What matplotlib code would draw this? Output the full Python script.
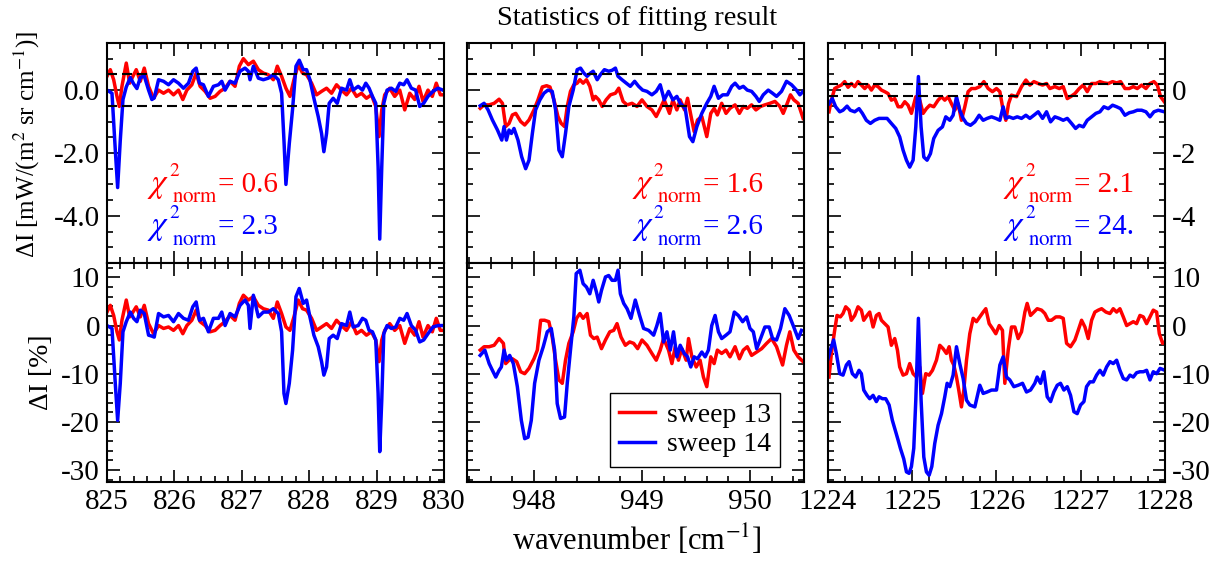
import matplotlib
matplotlib.use("Agg")
import matplotlib.pyplot as plt
from matplotlib.ticker import MultipleLocator, FormatStrFormatter

plt.rcParams.update({
    "font.family": "serif",
    "font.serif": ["Liberation Serif", "DejaVu Serif"],
    "mathtext.fontset": "stix",
    "axes.unicode_minus": False,
    "axes.linewidth": 1.5,
})

RED = "#ff0000"
BLUE = "#0000ff"

# ---------------------------------------------------------------- 825-830 window
left_x_blue = [825.000, 825.074, 825.123, 825.158, 825.197, 825.237, 825.286, 825.346, 825.395, 825.444,
               825.494, 825.553, 825.617, 825.666, 825.701, 825.765, 825.839, 825.913, 825.987, 826.061,
               826.135, 826.209, 826.273, 826.323, 826.372, 826.431, 826.505, 826.579, 826.654, 826.703,
               826.752, 826.826, 826.900, 826.974, 827.048, 827.098, 827.122, 827.172, 827.246, 827.320,
               827.394, 827.468, 827.542, 827.591, 827.626, 827.655, 827.705, 827.754, 827.804, 827.853,
               827.912, 827.961, 828.011, 828.070, 828.134, 828.184, 828.218, 828.258, 828.297, 828.356,
               828.416, 828.480, 828.554, 828.603, 828.653, 828.727, 828.791, 828.840, 828.889, 828.939,
               828.988, 829.023, 829.047, 829.077, 829.107, 829.156, 829.220, 829.284, 829.344, 829.403,
               829.452, 829.516, 829.580, 829.640, 829.699, 829.763, 829.837, 829.911, 829.985]
left_abs_blue = [0.0, -0.1, -1.9, -3.1, -1.6, -0.3, 0.1, 0.4, 0.2, 0.05,
                 0.4, 0.45, 0.0, -0.3, -0.25, 0.33, 0.28, 0.17, 0.33, 0.22,
                 0.06, 0.22, 0.6, 0.7, 0.22, 0.17, -0.2, 0.12, 0.17, 0.28,
                 0.0, 0.28, 0.22, 0.6, 0.7, 0.6, 0.33, 0.76, 0.38, 0.33,
                 0.38, 0.49, 0.33, -0.1, -1.6, -3.0, -1.7, -0.6, 0.76, 0.95,
                 0.65, 0.65, 0.33, -0.26, -0.84, -1.38, -1.96, -1.38, -0.42, -0.26,
                 -0.42, 0.06, 0.0, 0.33, 0.0, 0.12, 0.0, 0.22, 0.06, -0.2,
                 -0.42, -2.44, -4.74, -2.44, -0.42, 0.0, 0.06, -0.04, 0.22, 0.17,
                 0.33, 0.06, 0.0, -0.52, -0.42, -0.2, -0.04, 0.06, 0.0]
left_rel_blue = [0, -0.6, -12, -19.7, -12, -1.3, 0.8, 2.8, 1.5, 0.8,
                 3.2, 2.5, -2, -2.2, -2.4, 2.5, 1.8, 2.1, 0.8, 2.5,
                 1.5, 1.1, 3.9, 4.9, 1.1, 1.5, -1.3, 1.5, 1.5, 2.8,
                 0, 2.5, 1.8, 4.2, 5.3, 4.2, -0.6, 6.3, 1.8, 2.8,
                 2.8, 3.5, 2.5, -1.3, -14.1, -16.2, -12, -5.1, 6, 7.7,
                 4.6, 5.3, 1.8, -2, -4.4, -7.5, -10.3, -8.6, -2.7, -2,
                 -2.7, 0.4, 0, 2.8, -0.3, 0, 1.5, 1.1, -1, -1.3,
                 -3, -14.1, -26.2, -15.5, -1.7, 0, -0.6, -0.3, 1.5, 1.1,
                 2.5, 0, -1, -3.4, -3, -1.7, -0.3, 0, 0]

left_x_red = [825.000, 825.049, 825.099, 825.148, 825.183, 825.222, 825.286, 825.336, 825.385, 825.434,
              825.494, 825.553, 825.617, 825.691, 825.765, 825.839, 825.913, 825.987, 826.061, 826.125,
              826.185, 826.259, 826.323, 826.382, 826.456, 826.530, 826.604, 826.678, 826.752, 826.826,
              826.900, 826.964, 827.024, 827.098, 827.172, 827.246, 827.320, 827.394, 827.468, 827.527,
              827.591, 827.655, 827.715, 827.774, 827.838, 827.902, 827.961, 828.036, 828.110, 828.184,
              828.258, 828.332, 828.406, 828.480, 828.554, 828.628, 828.702, 828.776, 828.850, 828.924,
              828.988, 829.037, 829.077, 829.121, 829.195, 829.269, 829.344, 829.418, 829.492, 829.566,
              829.630, 829.689, 829.763, 829.827, 829.886, 829.946, 830.000]
left_abs_red = [0.44, 0.65, 0.33, -0.2, -0.52, 0.12, 0.86, 0.22, 0.44, 0.65,
                0.28, 0.7, 0.12, -0.26, 0.0, -0.1, 0.0, -0.15, 0.0, -0.3,
                0.0, 0.17, 0.54, 0.12, -0.04, -0.26, -0.2, -0.04, 0.06, 0.28,
                0.12, 0.76, 1.0, 0.81, 0.92, 0.65, 0.54, 0.49, 0.33, 0.76,
                0.44, 0.06, -0.2, 0.33, 0.81, 0.54, 0.49, 0.22, -0.15, -0.04,
                0.06, -0.1, 0.17, 0.0, -0.15, 0.06, -0.2, -0.1, -0.26, -0.15,
                -0.52, -1.48, -0.63, -0.15, 0.06, -0.2, 0.0, -0.63, -0.1, -0.3,
                0.12, -0.36, 0.0, -0.2, 0.22, -0.15, -0.15]
left_rel_red = [2.8, 4.2, 2.1, -1.3, -3, 1.1, 5.3, 1.8, 2.8, 3.9,
                1.8, 4.2, 0.4, -1.7, 0, -0.6, -0.3, -1, 0, -1.7,
                0, 1.1, 3.2, 0.8, 0, -1.3, -1, 0, 0.8, 2.1,
                1.1, 4.6, 6.3, 5.3, 6, 4.2, 3.5, 3.2, 1.5, 4.9,
                2.5, -0.3, -1, 1.8, 5.3, 3.5, 3.2, 1.5, -1, -0.3,
                0.4, -0.6, 1.1, 0, -1, 0.8, -1.7, -1, -2, -1.3,
                -3, -7.5, -3, -1, 0.4, -1, 0, -3.7, -0.6, -2,
                0.8, -2.4, 0, -1.3, 1.5, -1, -1]

# ---------------------------------------------------------------- 948-950 window
mid_x_blue_abs = [947.502, 947.538, 947.575, 947.615, 947.662, 947.702, 947.723, 947.745, 947.769, 947.791,
                  947.815, 947.852, 947.886, 947.923, 947.954, 947.985, 948.015, 948.055, 948.092, 948.129,
                  948.169, 948.200, 948.231, 948.262, 948.292, 948.323, 948.363, 948.400, 948.431, 948.462,
                  948.492, 948.523, 948.548, 948.585, 948.615, 948.652, 948.692, 948.723, 948.754, 948.778,
                  948.815, 948.855, 948.892, 948.932, 948.969, 949.006, 949.046, 949.092, 949.132, 949.169,
                  949.206, 949.246, 949.286, 949.323, 949.354, 949.400, 949.440, 949.471, 949.508, 949.554,
                  949.600, 949.637, 949.668, 949.708, 949.748, 949.791, 949.831, 949.862, 949.902, 949.938,
                  949.975, 950.015, 950.055, 950.086, 950.123, 950.169, 950.209, 950.246, 950.292, 950.338,
                  950.385, 950.431, 950.462, 950.492]
mid_abs_blue = [-0.5, -0.42, -0.63, -0.95, -1.27, -1.59, -1.16, -1.59, -1.27, -1.38,
                -1.22, -1.59, -2.12, -2.5, -2.23, -1.38, -0.63, -0.31, -0.1, 0.0,
                -0.04, -0.63, -1.91, -2.12, -1.38, -0.52, 0.0, 0.65, 0.7, 0.54,
                0.44, 0.54, 0.6, 0.33, 0.49, 0.65, 0.6, 0.63, 0.7, 0.44,
                0.33, 0.22, 0.12, 0.28, 0.12, 0.0, -0.04, -0.15, -0.04, 0.17,
                -0.31, -0.04, -0.31, -0.2, -0.42, -0.58, -1.48, -1.64, -1.16, -0.74,
                -0.42, -0.2, 0.12, -0.26, -0.15, -0.15, 0.12, 0.22, 0.06, 0.12,
                0.0, -0.04, -0.2, -0.36, -0.15, 0.0, -0.1, -0.2, -0.04, 0.28,
                0.17, 0.0, -0.15, -0.04]

mid_x_red_abs = [947.502, 947.538, 947.585, 947.631, 947.677, 947.708, 947.738, 947.769, 947.800, 947.831,
                 947.877, 947.914, 947.954, 948.000, 948.037, 948.077, 948.117, 948.148, 948.185, 948.222,
                 948.252, 948.283, 948.308, 948.338, 948.369, 948.400, 948.425, 948.455, 948.486, 948.517,
                 948.548, 948.569, 948.600, 948.631, 948.668, 948.708, 948.754, 948.785, 948.825, 948.862,
                 948.908, 948.954, 949.000, 949.046, 949.092, 949.132, 949.169, 949.206, 949.255, 949.286,
                 949.323, 949.354, 949.394, 949.422, 949.452, 949.483, 949.514, 949.554, 949.600, 949.637,
                 949.668, 949.698, 949.738, 949.778, 949.815, 949.862, 949.902, 949.938, 949.975, 950.015,
                 950.055, 950.098, 950.138, 950.185, 950.231, 950.277, 950.308, 950.345, 950.375, 950.406,
                 950.446, 950.492]
mid_abs_red = [-0.58, -0.47, -0.47, -0.42, -0.29, -0.42, -1.16, -1.06, -0.79, -0.74,
               -1.0, -1.11, -0.95, -0.63, -0.31, 0.1, 0.14, 0.1, -0.31, -0.84,
               -1.06, -1.16, -0.52, -0.04, 0.17, 0.22, 0.33, 0.22, 0.33, 0.12,
               -0.31, -0.2, -0.31, -0.52, -0.31, -0.15, -0.1, 0.06, -0.36, -0.47,
               -0.42, -0.52, -0.31, -0.52, -0.63, -0.84, -0.58, -0.31, -0.74, -0.31,
               -0.63, -0.31, -0.63, -0.26, -0.79, -1.32, -0.95, -0.84, -1.48, -0.74,
               -0.58, -0.79, -0.42, -0.74, -0.58, -0.47, -0.74, -0.52, -0.58, -0.47,
               -0.63, -0.52, -0.47, -0.42, -0.36, -0.52, -0.74, -0.42, -0.15, -0.31,
               -0.42, -0.9]

mid_x_blue_rel = [947.502, 947.545, 947.585, 947.615, 947.646, 947.677, 947.698, 947.723, 947.745, 947.775,
                  947.809, 947.846, 947.883, 947.914, 947.945, 947.975, 948.006, 948.046, 948.086, 948.123,
                  948.160, 948.191, 948.215, 948.246, 948.283, 948.308, 948.338, 948.369, 948.391, 948.425,
                  948.455, 948.486, 948.517, 948.548, 948.578, 948.600, 948.625, 948.662, 948.692, 948.723,
                  948.754, 948.778, 948.800, 948.831, 948.862, 948.898, 948.938, 948.978, 949.015, 949.062,
                  949.108, 949.138, 949.169, 949.200, 949.231, 949.262, 949.292, 949.323, 949.354, 949.391,
                  949.422, 949.452, 949.483, 949.514, 949.554, 949.585, 949.615, 949.646, 949.677, 949.708,
                  949.738, 949.778, 949.815, 949.855, 949.892, 949.932, 949.969, 950.000, 950.031, 950.062,
                  950.098, 950.138, 950.178, 950.209, 950.246, 950.283, 950.323, 950.363, 950.400, 950.446,
                  950.477]
mid_rel_blue = [-6.2, -5.1, -7.9, -9.3, -10.7, -9.3, -8.6, -5.1, -7.2, -6.2,
                -7.9, -12.7, -19.7, -23.5, -23.2, -19.7, -12.0, -7.2, -4.4, -1.3,
                -0.6, -5.1, -16.2, -19.3, -19.0, -12.0, -5.1, 1.8, 10.8, 11.5,
                8.7, 8.0, 6.6, 9.4, 7.0, 4.9, 7.3, 10.1, 10.4, 9.4,
                9.4, 11.5, 6.6, 4.6, 3.5, 1.5, 5.3, 2.1, -0.6, -1.0,
                -2.0, 0.0, 2.5, -3.4, -1.3, -5.1, -1.3, -6.5, -4.1, -5.8,
                -6.5, -8.6, -6.5, -6.9, -5.5, -6.5, -5.1, 0.0, 2.1, -1.3,
                -2.7, -2.0, -1.3, 2.8, 2.1, 0.8, 1.8, -0.6, -1.3, -4.8,
                -2.7, -0.3, -0.3, -2.7, -3.0, -0.6, 3.5, 2.1, 0.0, -2.7,
                -1.0]

mid_x_red_rel = [947.502, 947.538, 947.585, 947.631, 947.677, 947.717, 947.738, 947.769, 947.800, 947.840,
                 947.877, 947.914, 947.954, 948.000, 948.031, 948.062, 948.098, 948.138, 948.169, 948.200,
                 948.231, 948.262, 948.292, 948.323, 948.363, 948.394, 948.425, 948.455, 948.492, 948.523,
                 948.554, 948.585, 948.625, 948.662, 948.702, 948.738, 948.769, 948.806, 948.846, 948.886,
                 948.923, 948.960, 949.000, 949.046, 949.092, 949.132, 949.169, 949.200, 949.246, 949.277,
                 949.308, 949.338, 949.369, 949.409, 949.431, 949.462, 949.502, 949.538, 949.569, 949.600,
                 949.637, 949.668, 949.698, 949.738, 949.778, 949.815, 949.862, 949.902, 949.938, 949.975,
                 950.015, 950.062, 950.108, 950.154, 950.200, 950.246, 950.302, 950.338, 950.369, 950.406,
                 950.446, 950.492]
mid_rel_red = [-5.1, -4.4, -4.4, -4.1, -2.7, -3.7, -7.9, -7.2, -6.9, -7.5,
               -9.6, -10.0, -8.9, -6.9, -5.1, 1.1, 1.1, 0.8, -2.4, -7.2,
               -11.3, -12.0, -7.2, -3.7, -1.3, 1.5, 2.5, 1.5, 2.5, -2.0,
               -2.7, -2.4, -4.8, -3.0, -1.3, -1.0, 0.4, -2.4, -4.1, -3.4,
               -3.7, -4.8, -3.0, -4.1, -5.8, -7.2, -5.1, -2.7, -5.1, -7.9,
               -4.4, -7.2, -4.8, -7.2, -2.7, -6.5, -8.6, -7.2, -10.7, -12.7,
               -6.5, -7.9, -5.1, -5.8, -5.1, -6.5, -4.4, -6.9, -5.1, -4.4,
               -6.2, -5.5, -4.8, -3.7, -2.7, -4.4, -8.2, -4.1, -1.3, -5.1,
               -6.5, -7.5]

# ---------------------------------------------------------------- 1224-1228 window
right_x_red_abs = [1224.012, 1224.040, 1224.079, 1224.119, 1224.158, 1224.198, 1224.238, 1224.277, 1224.317, 1224.356,
                   1224.396, 1224.436, 1224.475, 1224.515, 1224.554, 1224.594, 1224.634, 1224.673, 1224.713, 1224.752,
                   1224.792, 1224.832, 1224.871, 1224.911, 1224.950, 1224.990, 1225.042, 1225.089, 1225.129, 1225.168,
                   1225.208, 1225.255, 1225.307, 1225.347, 1225.386, 1225.426, 1225.465, 1225.505, 1225.545, 1225.584,
                   1225.624, 1225.663, 1225.703, 1225.750, 1225.802, 1225.850, 1225.901, 1225.952, 1226.000, 1226.040,
                   1226.079, 1226.111, 1226.143, 1226.178, 1226.238, 1226.297, 1226.349, 1226.396, 1226.444, 1226.495,
                   1226.547, 1226.594, 1226.634, 1226.693, 1226.745, 1226.792, 1226.840, 1226.879, 1226.931, 1226.982,
                   1227.030, 1227.077, 1227.129, 1227.180, 1227.228, 1227.275, 1227.327, 1227.378, 1227.426, 1227.473,
                   1227.525, 1227.576, 1227.624, 1227.671, 1227.723, 1227.774, 1227.822, 1227.869, 1227.909, 1227.948,
                   1227.992]
right_abs_red = [-0.69, -0.32, 0.05, 0.11, 0.16, 0.27, 0.09, 0.21, 0.11, 0.27,
                 0.16, 0.05, 0.16, 0.0, 0.16, 0.11, 0.0, -0.05, -0.11, -0.32,
                 -0.27, -0.53, -0.53, -0.37, -0.48, -0.74, -0.21, -0.32, -0.74, -0.59,
                 -0.48, -0.53, -0.32, -0.21, -0.32, -0.21, -0.43, -0.64, -0.43, -0.96,
                 -0.53, -0.05, 0.05, 0.05, 0.11, 0.27, 0.05, -0.05, 0.05, -0.05,
                 -0.64, -0.96, -0.43, -0.16, -0.21, 0.11, 0.32, 0.16, 0.27, 0.21,
                 0.16, 0.21, 0.05, 0.11, 0.05, 0.11, -0.27, -0.21, -0.11, 0.05,
                 0.16, -0.05, 0.21, 0.21, 0.27, 0.23, 0.21, 0.27, 0.23, 0.27,
                 0.05, 0.05, 0.11, 0.05, 0.16, 0.05, 0.21, 0.27, 0.16, -0.21,
                 -0.37]

right_x_blue_abs = [1224.012, 1224.051, 1224.091, 1224.139, 1224.178, 1224.226, 1224.265, 1224.317, 1224.368, 1224.408,
                    1224.455, 1224.503, 1224.554, 1224.606, 1224.653, 1224.701, 1224.752, 1224.804, 1224.851, 1224.891,
                    1224.931, 1224.970, 1225.010, 1225.042, 1225.073, 1225.105, 1225.137, 1225.176, 1225.216, 1225.255,
                    1225.307, 1225.358, 1225.398, 1225.446, 1225.485, 1225.525, 1225.564, 1225.604, 1225.644, 1225.691,
                    1225.743, 1225.794, 1225.842, 1225.889, 1225.941, 1225.992, 1226.040, 1226.079, 1226.111, 1226.150,
                    1226.198, 1226.246, 1226.297, 1226.349, 1226.396, 1226.444, 1226.495, 1226.547, 1226.594, 1226.642,
                    1226.693, 1226.745, 1226.792, 1226.840, 1226.891, 1226.939, 1226.982, 1227.030, 1227.077, 1227.129,
                    1227.180, 1227.228, 1227.275, 1227.327, 1227.378, 1227.426, 1227.473, 1227.525, 1227.576, 1227.624,
                    1227.671, 1227.723, 1227.774, 1227.822, 1227.869, 1227.921, 1227.992]
right_abs_blue = [-0.43, -0.27, -0.53, -0.69, -0.64, -0.51, -0.64, -0.69, -0.59, -0.74,
                  -0.96, -1.06, -0.96, -0.9, -0.9, -0.9, -1.06, -1.22, -1.49, -1.91,
                  -2.23, -2.45, -2.23, -1.17, 0.43, -1.17, -2.13, -2.23, -2.02, -1.54,
                  -1.28, -1.17, -0.85, -0.96, -0.8, -0.21, -0.64, -0.9, -1.06, -1.12,
                  -1.01, -0.8, -0.96, -0.9, -0.85, -0.9, -0.96, -0.53, -0.9, -0.85,
                  -0.9, -0.85, -0.9, -0.8, -0.9, -0.8, -0.69, -0.9, -0.69, -1.01,
                  -0.85, -0.9, -0.96, -0.9, -1.06, -1.22, -1.12, -1.17, -0.96, -0.85,
                  -0.74, -0.69, -0.53, -0.59, -0.48, -0.53, -0.59, -0.8, -0.72, -0.69,
                  -0.64, -0.64, -0.69, -0.85, -0.69, -0.64, -0.69]

right_x_red_rel = [1224.012, 1224.040, 1224.079, 1224.107, 1224.147, 1224.178, 1224.210, 1224.250, 1224.277, 1224.317,
                   1224.356, 1224.396, 1224.424, 1224.463, 1224.495, 1224.535, 1224.574, 1224.606, 1224.634, 1224.673,
                   1224.713, 1224.752, 1224.792, 1224.824, 1224.851, 1224.891, 1224.931, 1224.970, 1225.010, 1225.050,
                   1225.089, 1225.121, 1225.160, 1225.200, 1225.240, 1225.287, 1225.327, 1225.366, 1225.406, 1225.438,
                   1225.465, 1225.493, 1225.525, 1225.552, 1225.584, 1225.612, 1225.644, 1225.683, 1225.723, 1225.762,
                   1225.802, 1225.842, 1225.873, 1225.913, 1225.952, 1225.992, 1226.032, 1226.071, 1226.099, 1226.139,
                   1226.178, 1226.218, 1226.257, 1226.297, 1226.337, 1226.364, 1226.404, 1226.444, 1226.483, 1226.535,
                   1226.574, 1226.614, 1226.653, 1226.705, 1226.752, 1226.792, 1226.832, 1226.879, 1226.931, 1226.970,
                   1227.010, 1227.050, 1227.089, 1227.129, 1227.168, 1227.208, 1227.248, 1227.299, 1227.347, 1227.386,
                   1227.426, 1227.465, 1227.505, 1227.545, 1227.584, 1227.624, 1227.663, 1227.703, 1227.743, 1227.782,
                   1227.822, 1227.861, 1227.901, 1227.933, 1227.972, 1228.000]
right_rel_red = [-10.7, -5.8, -1.0, 2.1, 1.8, 2.5, 3.9, 3.2, 1.1, 2.1,
                 3.9, 3.2, 1.1, 2.1, 2.8, -0.3, 2.1, 2.5, 1.1, 0.4,
                 -0.3, -4.1, -2.7, -5.1, -8.6, -10.3, -10.0, -7.9, -10.0, -10.7,
                 -8.6, -14.1, -10.0, -10.3, -9.3, -7.2, -4.1, -4.8, -5.8, -4.4,
                 -7.2, -8.2, -10.7, -13.4, -16.9, -13.4, -7.2, -1.7, 1.5, 0.8,
                 1.8, 2.8, 3.5, 0.4, -0.6, -1.7, 0.0, -1.0, -12.0, -5.1,
                 -0.3, -0.3, -2.7, -1.3, 2.8, 4.6, 2.1, 2.8, 3.5, 3.2,
                 2.5, 1.1, 1.1, 1.8, 1.8, 1.5, -3.7, -4.4, -3.0, -1.0,
                 1.1, -0.3, -2.7, 1.1, 2.8, 3.2, 3.5, 2.8, 2.5, 3.5,
                 2.8, 3.5, 1.8, 0.0, 0.4, 0.8, 0.4, 2.1, 1.8, 0.4,
                 1.8, 3.2, 2.8, -1.7, -3.7, -3.4]

right_x_blue_rel = [1224.000, 1224.040, 1224.067, 1224.099, 1224.139, 1224.178, 1224.218, 1224.250, 1224.289, 1224.329,
                    1224.368, 1224.396, 1224.424, 1224.463, 1224.495, 1224.535, 1224.574, 1224.606, 1224.646, 1224.685,
                    1224.725, 1224.764, 1224.804, 1224.832, 1224.859, 1224.899, 1224.931, 1224.962, 1224.990, 1225.018,
                    1225.042, 1225.073, 1225.105, 1225.137, 1225.168, 1225.200, 1225.232, 1225.267, 1225.307, 1225.347,
                    1225.386, 1225.414, 1225.446, 1225.485, 1225.525, 1225.564, 1225.604, 1225.644, 1225.683, 1225.743,
                    1225.802, 1225.842, 1225.889, 1225.941, 1226.000, 1226.040, 1226.079, 1226.119, 1226.158, 1226.206,
                    1226.257, 1226.309, 1226.356, 1226.404, 1226.455, 1226.483, 1226.523, 1226.562, 1226.602, 1226.642,
                    1226.681, 1226.721, 1226.760, 1226.800, 1226.840, 1226.879, 1226.919, 1226.958, 1226.998, 1227.038,
                    1227.069, 1227.109, 1227.149, 1227.188, 1227.228, 1227.267, 1227.307, 1227.347, 1227.386, 1227.426,
                    1227.465, 1227.505, 1227.545, 1227.584, 1227.624, 1227.663, 1227.703, 1227.743, 1227.782, 1227.822,
                    1227.861, 1227.901, 1227.941, 1228.000]
right_rel_blue = [-6.9, -4.4, -3.0, -5.8, -10.0, -10.3, -8.2, -7.5, -10.0, -10.7,
                  -9.3, -10.0, -13.4, -14.5, -15.2, -14.5, -15.8, -14.8, -15.2, -15.2,
                  -16.5, -19.7, -22.1, -23.8, -25.5, -27.7, -30.4, -30.7, -29.3, -25.5,
                  -15.5, 1.5, -15.5, -27.3, -30.4, -31.1, -29.3, -24.5, -20.7, -18.3,
                  -14.8, -12.0, -12.7, -10.3, -4.4, -7.9, -11.0, -15.5, -16.5, -16.9,
                  -12.4, -14.1, -13.8, -13.4, -13.4, -8.2, -6.5, -10.7, -11.3, -12.7,
                  -12.4, -12.0, -13.8, -13.4, -12.0, -10.7, -12.0, -9.6, -14.8, -15.8,
                  -13.8, -12.4, -12.0, -13.4, -12.7, -14.5, -17.9, -18.3, -16.5, -15.8,
                  -12.7, -11.7, -11.7, -10.3, -9.3, -10.3, -8.6, -7.5, -7.9, -7.2,
                  -9.3, -11.0, -11.3, -10.3, -10.7, -9.8, -9.6, -9.6, -9.3, -11.3,
                  -9.6, -10.0, -8.9, -9.3]

# window limits, tolerance band and fit statistics
xlims = [(825.0, 830.0), (947.38, 950.5), (1224.0, 1228.0)]
bands = [0.5, 0.5, 0.2]
chi_red = ["0.6", "1.6", "2.1"]
chi_blue = ["2.3", "2.6", "24."]
chi_xpos = [0.119, 0.489, 0.520]

# ---------------------------------------------------------------- layout
fig = plt.figure(figsize=(12.2, 5.63), dpi=100)
lefts = [0.0877, 0.3828, 0.6787]
width = 0.2762
top_row = [fig.add_axes([l, 0.5329, width, 0.3908]) for l in lefts]
bot_row = [fig.add_axes([l, 0.1439, width, 0.3890]) for l in lefts]

abs_data = [(left_x_red, left_abs_red, left_x_blue, left_abs_blue),
            (mid_x_red_abs, mid_abs_red, mid_x_blue_abs, mid_abs_blue),
            (right_x_red_abs, right_abs_red, right_x_blue_abs, right_abs_blue)]
rel_data = [(left_x_red, left_rel_red, left_x_blue, left_rel_blue),
            (mid_x_red_rel, mid_rel_red, mid_x_blue_rel, mid_rel_blue),
            (right_x_red_rel, right_rel_red, right_x_blue_rel, right_rel_blue)]


def style(ax, col, ymajor, yminor, yfmt):
    ax.xaxis.set_major_locator(MultipleLocator(1))
    ax.xaxis.set_minor_locator(MultipleLocator(0.2))
    ax.yaxis.set_major_locator(MultipleLocator(ymajor))
    ax.yaxis.set_minor_locator(MultipleLocator(yminor))
    ax.yaxis.set_major_formatter(FormatStrFormatter(yfmt))
    ax.tick_params(which="both", direction="in", top=True, right=True, width=1.2)
    ax.tick_params(which="major", length=9, labelsize=21, pad=5)
    ax.tick_params(which="minor", length=4.5)
    ax.tick_params(axis="y", labelleft=(col == 0), labelright=(col == 2))


def chi_label(ax, x, y, value, color):
    # chi^2_norm written out piece by piece so the indices sit well apart
    kw = dict(xy=(x, y), xycoords="axes fraction", textcoords="offset points",
              color=color, ha="left", va="baseline")
    ax.annotate(r"$\chi$", xytext=(0, 0), fontsize=24, **kw)
    ax.annotate(r"$\mathrm{2}$", xytext=(15.5, 11.5), fontsize=14, **kw)
    ax.annotate(r"$\mathrm{norm}$", xytext=(18, -7.5), fontsize=15, **kw)
    ax.annotate("= " + value, xytext=(51, 0), fontsize=21, **kw)


for i, ax in enumerate(top_row):
    xr, yr, xb, yb = abs_data[i]
    ax.plot(xr, yr, color=RED, lw=2.5)
    ax.plot(xb, yb, color=BLUE, lw=2.5)
    for y in (bands[i], -bands[i]):
        ax.axhline(y, color="black", lw=1.5, dashes=(4.8, 2.4), zorder=3)
    ax.set_xlim(*xlims[i])
    ax.set_ylim(-5.5, 1.5)
    style(ax, i, 2, 0.5, "%.1f" if i == 0 else "%d")
    ax.tick_params(axis="x", labelbottom=False)
    chi_label(ax, chi_xpos[i], 0.323, chi_red[i], RED)
    chi_label(ax, chi_xpos[i], 0.130, chi_blue[i], BLUE)

for i, ax in enumerate(bot_row):
    xr, yr, xb, yb = rel_data[i]
    ax.plot(xr, yr, color=RED, lw=2.5, label="sweep 13")
    ax.plot(xb, yb, color=BLUE, lw=2.5, label="sweep 14")
    ax.set_xlim(*xlims[i])
    ax.set_ylim(-32.5, 13)
    style(ax, i, 10, 2, "%d")

leg = bot_row[1].legend(loc="lower right", bbox_to_anchor=(0.93, 0.068), borderaxespad=0,
                        fontsize=20, handlelength=1.3, handletextpad=0.4, labelspacing=0.15,
                        borderpad=0.35, fancybox=False, framealpha=1, edgecolor="black")
leg.get_frame().set_linewidth(1.0)

fig.text(0.522, 0.968, "Statistics of fitting result", ha="center", va="center", fontsize=20.5)
fig.text(0.522, 0.041, r"wavenumber [cm$^{\mathrm{-1}}$]", ha="center", va="center", fontsize=22)
fig.text(0.022, 0.744, r"ΔI [mW/(m$^{2}$ sr cm$^{\mathrm{-1}}$)]", rotation=90,
         ha="center", va="center", fontsize=18)
fig.text(0.034, 0.339, "ΔI [%]", rotation=90, ha="center", va="center", fontsize=20)

fig.savefig("out.png", dpi=100)
